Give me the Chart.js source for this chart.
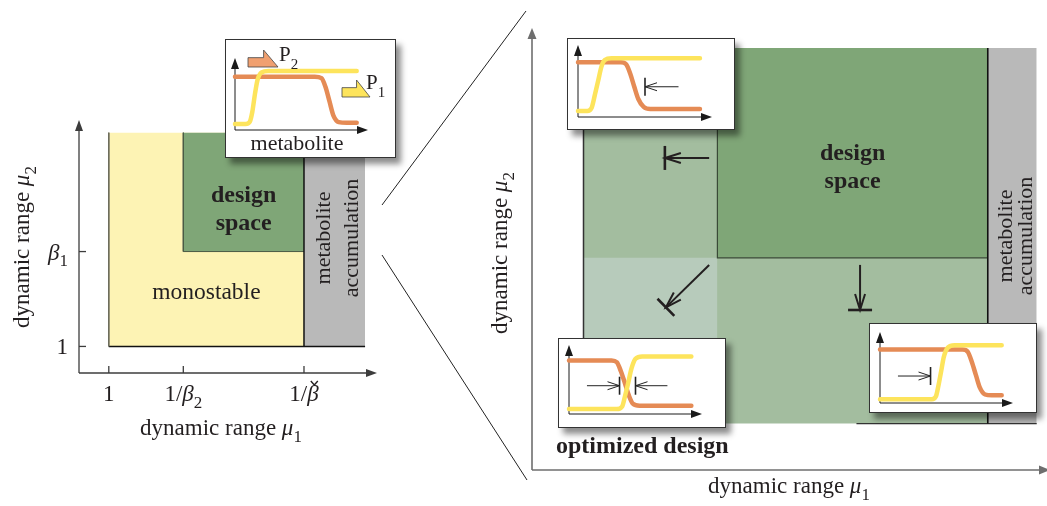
<!DOCTYPE html>
<html>
<head>
<meta charset="utf-8">
<title>design space</title>
<script src="https://cdn.jsdelivr.net/npm/chart.js@4.4.1/dist/chart.umd.min.js"></script>
<style>
  body { margin: 0; width: 1047px; height: 506px; overflow: hidden; background: #fff; position: relative; }
  canvas.full { position: absolute; left: 0; top: 0; }
  .inset { position: absolute; background: #fff; box-shadow: 5px 6px 6px rgba(0,0,0,.45); }
  .inset canvas { position: absolute; left: 0; top: 0; }
</style>
</head>
<body>
<canvas id="leftChart" class="full" width="1047" height="506"></canvas>
<canvas id="rightChart" class="full" width="1047" height="506"></canvas>
<div class="inset" style="left:225px;top:39px;width:171px;height:119px"><canvas id="insetA" width="171" height="119"></canvas></div>
<div class="inset" style="left:567px;top:38px;width:168px;height:92px"><canvas id="insetB" width="168" height="92"></canvas></div>
<div class="inset" style="left:558px;top:338px;width:168px;height:90px"><canvas id="insetC" width="168" height="90"></canvas></div>
<div class="inset" style="left:869px;top:323px;width:168px;height:90px"><canvas id="insetD" width="168" height="90"></canvas></div>
<script>
// ---- data ----
// left panel: dynamic range mu1 (x) against mu2 (y), schematic units
var leftXTicks = [1, 3.5, 7.55];      // 1, 1/beta2, 1/beta-check
var leftYTicks = [1.05, 4.8];         // 1, beta1
var leftMonoX = [1, 7.55],   leftMonoY = [1.05, 9.5];
var leftDesignX = [3.5, 7.55], leftDesignY = [4.8, 9.5];
var leftAccumX = [7.55, 9.6], leftAccumY = [1.05, 9.5];

// right panel: zoom on the design space corner
var rightOuterX = [1, 8.85],   rightOuterY = [1.05, 9.55];
var rightDesignX = [3.6, 8.85], rightDesignY = [4.8, 9.55];
var rightOptX = [1, 3.6],      rightOptY = [1.05, 4.8];
var rightAccumX = [8.85, 9.8], rightAccumY = [1.05, 9.55];
// tuning directions [x0, y0, x1, y1]
var tuneArrows = [[3.44, 7.06, 2.58, 7.06], [3.44, 4.64, 2.6, 3.68], [6.37, 4.64, 6.37, 3.62]];

// inset curves: promoter activity vs metabolite [x, y]
var insetA_P1 = [[0,0.083],[0.08,0.083],[0.11,0.11],[0.13,0.25],[0.15,0.5],[0.17,0.7],[0.2,0.8],[0.25,0.82],[0.915,0.82]];
var insetA_P2 = [[0,0.74],[0.6,0.74],[0.65,0.72],[0.68,0.6],[0.71,0.4],[0.74,0.2],[0.78,0.11],[0.84,0.1],[0.915,0.1]];
var insetB_P1 = [[0,0.083],[0.07,0.083],[0.1,0.12],[0.125,0.3],[0.15,0.5],[0.175,0.7],[0.2,0.79],[0.25,0.815],[0.91,0.815]];
var insetB_P2 = [[0,0.76],[0.32,0.76],[0.36,0.73],[0.39,0.6],[0.42,0.42],[0.45,0.25],[0.49,0.14],[0.54,0.11],[0.91,0.11]];
var insetC_P1 = [[0,0.072],[0.36,0.072],[0.4,0.11],[0.42,0.25],[0.445,0.45],[0.47,0.66],[0.5,0.8],[0.55,0.835],[0.92,0.835]];
var insetC_P2 = [[0,0.777],[0.32,0.777],[0.36,0.75],[0.39,0.62],[0.42,0.45],[0.45,0.27],[0.48,0.15],[0.53,0.12],[0.92,0.12]];
var insetD_P1 = [[0,0.052],[0.39,0.052],[0.42,0.09],[0.44,0.25],[0.46,0.45],[0.48,0.65],[0.51,0.78],[0.56,0.813],[0.915,0.813]];
var insetD_P2 = [[0,0.752],[0.62,0.752],[0.66,0.72],[0.69,0.58],[0.72,0.4],[0.75,0.22],[0.79,0.12],[0.84,0.108],[0.915,0.108]];
// shift markers [x from, x bar, y]
var insetB_marks = [[0.75, 0.5, 0.42]];
var insetC_marks = [[0.135, 0.38, 0.41], [0.74, 0.5, 0.41]];
var insetD_marks = [[0.135, 0.38, 0.38]];

var colP1 = '#fde45c', colP2 = '#e58b55';
var colMono = '#fdf3b4', colDesign = '#7fa677', colAccum = '#b9b9b9';
var colMid = '#a3bd9f', colOpt = '#b7cbbb';
var ink = '#231f20';
var FONT = '"Liberation Serif", "Times New Roman", "DejaVu Serif", serif';

// ---- drawing helpers ----
function fnt(size, fl) {
  return (fl.indexOf('i') >= 0 ? 'italic ' : '') + (fl.indexOf('b') >= 0 ? 'bold ' : '') + size + 'px ' + FONT;
}
function rich(ctx, parts, x, y, size, align, dyf) {
  dyf = dyf || 0.3;
  ctx.fillStyle = ink;
  var items = parts.map(function(p) {
    var fl = p[1] || '';
    var sub = fl.indexOf('s') >= 0;
    ctx.font = fnt(sub ? Math.round(size * 0.72) : size, fl);
    return { t: p[0], font: ctx.font, w: ctx.measureText(p[0]).width, dy: sub ? size * dyf : 0 };
  });
  var total = items.reduce(function(a, b) { return a + b.w; }, 0);
  var cx = align == 'center' ? x - total / 2 : align == 'right' ? x - total : x;
  ctx.textAlign = 'left'; ctx.textBaseline = 'alphabetic';
  items.forEach(function(it) { ctx.font = it.font; ctx.fillText(it.t, cx, y + it.dy); it.x = cx; cx += it.w; });
  return items;
}
function rot(ctx, parts, x, y, size) {
  ctx.save(); ctx.translate(x, y); ctx.rotate(-Math.PI / 2);
  rich(ctx, parts, 0, 0, size, 'center');
  ctx.restore();
}
function line(ctx, x0, y0, x1, y1) {
  ctx.beginPath(); ctx.moveTo(x0, y0); ctx.lineTo(x1, y1); ctx.stroke();
}
function triHead(ctx, x, y, ang, len, half) {
  var c = Math.cos(ang), s = Math.sin(ang);
  ctx.beginPath();
  ctx.moveTo(x, y);
  ctx.lineTo(x - len * c + half * s, y - len * s - half * c);
  ctx.lineTo(x - len * c - half * s, y - len * s + half * c);
  ctx.closePath(); ctx.fill();
}
function vHead(ctx, x, y, ang, len, half) {
  var c = Math.cos(ang), s = Math.sin(ang);
  ctx.beginPath();
  ctx.moveTo(x - len * c + half * s, y - len * s - half * c);
  ctx.lineTo(x, y);
  ctx.lineTo(x - len * c - half * s, y - len * s + half * c);
  ctx.stroke();
}
// arrow ending on a perpendicular bar
function barArrow(ctx, x0, y0, x1, y1, lw, barW, len, half, barHalf) {
  var ang = Math.atan2(y1 - y0, x1 - x0);
  ctx.lineWidth = lw;
  line(ctx, x0, y0, x1, y1);
  vHead(ctx, x1, y1, ang, len, half);
  var s = Math.sin(ang), c = Math.cos(ang);
  ctx.lineWidth = barW;
  line(ctx, x1 + barHalf * s, y1 - barHalf * c, x1 - barHalf * s, y1 + barHalf * c);
}
function rect(xr, yr, color, order) {
  return { data: [{ x: xr[0], y: yr[1] }, { x: xr[1], y: yr[1] }], showLine: true, fill: { value: yr[0] },
    backgroundColor: color, borderColor: 'rgba(0,0,0,0)', borderWidth: 0, pointRadius: 0, order: order };
}
function seg(pts, color, width) {
  return { data: pts.map(function(p) { return { x: p[0], y: p[1] }; }), showLine: true, fill: false,
    borderColor: color, borderWidth: width, pointRadius: 0, order: 0 };
}
function curve(pts, color) {
  return { data: pts.map(function(p) { return { x: p[0], y: p[1] }; }), showLine: true, fill: false,
    borderColor: color, borderWidth: 4.5, borderCapStyle: 'round', borderJoinStyle: 'round',
    cubicInterpolationMode: 'monotone', pointRadius: 0, clip: false };
}
function baseOptions(pad, xmax, ymax) {
  return {
    responsive: false, animation: false, events: [],
    layout: { padding: pad },
    scales: { x: { type: 'linear', min: 0, max: xmax, display: false },
              y: { type: 'linear', min: 0, max: ymax, display: false } },
    plugins: { legend: { display: false }, tooltip: { enabled: false } }
  };
}

// ---- left panel ----
var leftDecor = {
  id: 'leftDecor',
  afterDraw: function(chart) {
    var ctx = chart.ctx, xs = chart.scales.x, ys = chart.scales.y, a = chart.chartArea;
    var px = function(v) { return xs.getPixelForValue(v); }, py = function(v) { return ys.getPixelForValue(v); };
    ctx.save();
    ctx.strokeStyle = '#3c3c3c'; ctx.fillStyle = '#3c3c3c'; ctx.lineWidth = 1.3;
    line(ctx, a.left, a.bottom, a.right - 6, a.bottom);
    line(ctx, a.left, a.bottom, a.left, a.top + 6);
    triHead(ctx, a.right, a.bottom, 0, 11, 4);
    triHead(ctx, a.left, a.top, -Math.PI / 2, 11, 4);
    leftXTicks.forEach(function(v) { line(ctx, px(v), a.bottom, px(v), a.bottom - 7); });
    leftYTicks.forEach(function(v) { line(ctx, a.left, py(v), a.left + 7, py(v)); });

    rich(ctx, [['1']], px(leftXTicks[0]), 401, 23, 'center');
    rich(ctx, [['1/'], ['β', 'i'], ['2', 's']], px(leftXTicks[1]), 401, 23, 'center');
    var it = rich(ctx, [['1/'], ['β', 'i']], px(leftXTicks[2]), 401, 23, 'center');
    var cx = it[1].x + it[1].w * 0.62;
    ctx.strokeStyle = ink; ctx.lineWidth = 1.4;
    ctx.beginPath(); ctx.moveTo(cx - 3.5, 401 - 20); ctx.lineTo(cx, 401 - 16); ctx.lineTo(cx + 3.5, 401 - 20); ctx.stroke();
    rich(ctx, [['1']], a.left - 11, py(leftYTicks[0]) + 8, 23, 'right');
    rich(ctx, [['β', 'i'], ['1', 's']], a.left - 11, py(leftYTicks[1]) + 8, 23, 'right');

    rich(ctx, [['dynamic range '], ['μ', 'i'], ['1', 's']], 221, 435, 23, 'center');
    rot(ctx, [['dynamic range '], ['μ', 'i'], ['2', 's']], 29, 247, 23);

    var dx = px((leftDesignX[0] + leftDesignX[1]) / 2);
    rich(ctx, [['design', 'b']], dx, 202, 24, 'center');
    rich(ctx, [['space', 'b']], dx, 230, 24, 'center');
    rich(ctx, [['monostable']], px((leftMonoX[0] + leftMonoX[1]) / 2), 299, 23.5, 'center');
    rot(ctx, [['metabolite']], 330, 238, 22);
    rot(ctx, [['accumulation']], 358, 238, 22);
    ctx.restore();
  }
};

new Chart(document.getElementById('leftChart'), {
  type: 'scatter',
  data: { datasets: [
    seg([[leftMonoX[0], leftMonoY[1]], [leftMonoX[0], leftMonoY[0]]], '#6a6a5a', 1),
    seg([[leftMonoX[0], leftMonoY[0]], [leftAccumX[1], leftAccumY[0]]], '#111', 1.5),
    seg([[leftAccumX[0], leftAccumY[0]], [leftAccumX[0], leftAccumY[1]]], '#111', 1.5),
    seg([[leftDesignX[0], leftDesignY[1]], [leftDesignX[0], leftDesignY[0]], [leftDesignX[1], leftDesignY[0]]], '#4a5a45', 1),
    rect(leftDesignX, leftDesignY, colDesign, 1),
    rect(leftAccumX, leftAccumY, colAccum, 2),
    rect(leftMonoX, leftMonoY, colMono, 3)
  ] },
  options: baseOptions({ left: 79, right: 1047 - 377, top: 120, bottom: 506 - 373 }, 10, 10),
  plugins: [leftDecor]
});

// ---- right panel ----
var rightDecor = {
  id: 'rightDecor',
  afterDraw: function(chart) {
    var ctx = chart.ctx, xs = chart.scales.x, ys = chart.scales.y, a = chart.chartArea;
    var px = function(v) { return xs.getPixelForValue(v); }, py = function(v) { return ys.getPixelForValue(v); };
    ctx.save();
    ctx.strokeStyle = '#6e6e6e'; ctx.fillStyle = '#6e6e6e'; ctx.lineWidth = 1.6;
    line(ctx, a.left, a.bottom, a.right, a.bottom);
    line(ctx, a.left, a.bottom, a.left, a.top + 6);
    triHead(ctx, a.left, a.top, -Math.PI / 2, 11, 4.5);
    triHead(ctx, a.right + 3, a.bottom, 0, 11, 4.5);

    // zoom lines from the left panel
    ctx.strokeStyle = '#222'; ctx.lineWidth = 1;
    line(ctx, 382, 205, 526, 11);
    line(ctx, 382, 255, 527, 480);

    rich(ctx, [['dynamic range '], ['μ', 'i'], ['1', 's']], 789, 493, 23, 'center');
    rot(ctx, [['dynamic range '], ['μ', 'i'], ['2', 's']], 507, 253, 23);

    var dx = px((rightDesignX[0] + rightDesignX[1]) / 2);
    rich(ctx, [['design', 'b']], dx, 160, 24, 'center');
    rich(ctx, [['space', 'b']], dx, 188, 24, 'center');
    rich(ctx, [['optimized design', 'b']], 556, 453, 24, 'left');
    rot(ctx, [['metabolite']], 1012, 236, 22);
    rot(ctx, [['accumulation']], 1032, 236, 22);

    ctx.strokeStyle = ink; ctx.lineCap = 'butt';
    tuneArrows.forEach(function(t) {
      barArrow(ctx, px(t[0]), py(t[1]), px(t[2]), py(t[3]), 2, 2.6, 16, 5, 12);
    });
    ctx.restore();
  }
};

new Chart(document.getElementById('rightChart'), {
  type: 'scatter',
  data: { datasets: [
    seg([[rightOuterX[0], rightOuterY[1]], [rightOuterX[0], rightOuterY[0]]], '#333', 1.5),
    seg([[rightAccumX[0], rightAccumY[0]], [rightAccumX[0], rightAccumY[1]]], '#111', 1.6),
    seg([[6.3, rightOuterY[0]], [rightAccumX[1], rightAccumY[0]]], '#333', 1.2),
    seg([[rightDesignX[0], rightDesignY[1]], [rightDesignX[0], rightDesignY[0]], [rightDesignX[1], rightDesignY[0]]], '#3a4a37', 1.2),
    rect(rightDesignX, rightDesignY, colDesign, 1),
    rect(rightOptX, rightOptY, colOpt, 2),
    rect(rightAccumX, rightAccumY, colAccum, 2),
    rect(rightOuterX, rightOuterY, colMid, 3)
  ] },
  options: baseOptions({ left: 532, right: 0, top: 28, bottom: 36 }, 10, 10),
  plugins: [rightDecor]
});

// ---- insets ----
function makeInset(id, pad, p1, p2, marks, extra) {
  new Chart(document.getElementById(id), {
    type: 'scatter',
    data: { datasets: [curve(p1, colP1), curve(p2, colP2)] },
    options: baseOptions(pad, 1, 1),
    plugins: [{
      id: 'insetDecor',
      beforeDatasetsDraw: function(chart) {
        var ctx = chart.ctx, a = chart.chartArea;
        ctx.save();
        ctx.strokeStyle = '#1a1a1a'; ctx.fillStyle = '#1a1a1a'; ctx.lineWidth = 1;
        line(ctx, a.left, a.bottom, a.right - 6, a.bottom);
        line(ctx, a.left, a.bottom, a.left, a.top + 6);
        triHead(ctx, a.right, a.bottom, 0, 11, 4);
        triHead(ctx, a.left, a.top, -Math.PI / 2, 11, 4);
        ctx.restore();
      },
      afterDraw: function(chart) {
        var ctx = chart.ctx, xs = chart.scales.x, ys = chart.scales.y;
        ctx.save();
        ctx.strokeStyle = '#333'; ctx.lineWidth = 1;
        ctx.strokeRect(0.5, 0.5, chart.width - 1, chart.height - 1);
        ctx.strokeStyle = '#222';
        marks.forEach(function(m) {
          barArrow(ctx, xs.getPixelForValue(m[0]), ys.getPixelForValue(m[2]), xs.getPixelForValue(m[1]), ys.getPixelForValue(m[2]), 1, 1.6, 12, 4, 9);
        });
        if (extra) extra(ctx, chart);
        ctx.restore();
      }
    }]
  });
}

function promoter(ctx, x, y, w, h, color) {
  ctx.beginPath();
  ctx.moveTo(x, y + h * 0.45); ctx.lineTo(x + w * 0.52, y + h * 0.45); ctx.lineTo(x + w * 0.52, y);
  ctx.lineTo(x + w, y + h); ctx.lineTo(x, y + h); ctx.closePath();
  ctx.fillStyle = color; ctx.fill();
  ctx.strokeStyle = '#444'; ctx.lineWidth = 0.8; ctx.stroke();
}

makeInset('insetA', { left: 10, right: 28, top: 19, bottom: 28 }, insetA_P1, insetA_P2, [], function(ctx) {
  promoter(ctx, 23, 11, 30, 17, '#f0a070');
  promoter(ctx, 117, 41, 28, 17, colP1);
  rich(ctx, [['P'], ['2', 's']], 54, 22, 21, 'left', 0.4);
  rich(ctx, [['P'], ['1', 's']], 141, 50, 21, 'left', 0.4);
  rich(ctx, [['metabolite']], 72, 111, 22, 'center');
});
makeInset('insetB', { left: 11, right: 23, top: 7, bottom: 13 }, insetB_P1, insetB_P2, insetB_marks);
makeInset('insetC', { left: 11, right: 24, top: 7, bottom: 14 }, insetC_P1, insetC_P2, insetC_marks);
makeInset('insetD', { left: 11, right: 24, top: 9, bottom: 10 }, insetD_P1, insetD_P2, insetD_marks);
</script>
</body>
</html>
